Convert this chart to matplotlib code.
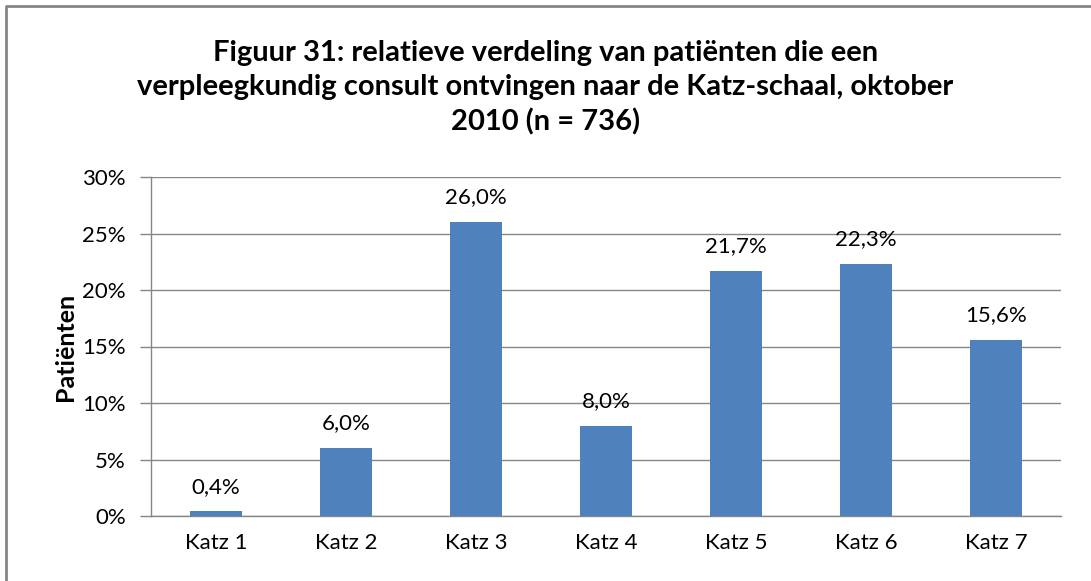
import numpy as np
import matplotlib.pyplot as plt
from matplotlib.lines import Line2D
from matplotlib.ticker import FuncFormatter

categories = ['Katz 1', 'Katz 2', 'Katz 3', 'Katz 4', 'Katz 5', 'Katz 6', 'Katz 7']
values = [0.4, 6.0, 26.0, 8.0, 21.7, 22.3, 15.6]
yticks = [0, 5, 10, 15, 20, 25, 30]

title = ('Figuur 31: relatieve verdeling van patiënten die een\n'
         'verpleegkundig consult ontvingen naar de Katz-schaal, oktober\n'
         '2010 (n = 736)')

plt.rcParams['font.family'] = ['Lato', 'DejaVu Sans']

W, H = 1091, 581
fig = plt.figure(figsize=(W / 100, H / 100), dpi=100)
# chart frame: only top and left edges are visible (rest is cropped)
fig.lines.append(Line2D([6 / W, 6 / W, 1], [0, 1 - 6 / H, 1 - 6 / H], transform=fig.transFigure,
                        color='#868686', linewidth=2))

ax = fig.add_axes([151 / W, 1 - 516 / H, 910 / W, 339 / H])
x = np.arange(len(categories))
ax.bar(x, values, width=0.4, color='#4F81BD', zorder=3)

for xi, v in zip(x, values):
    ax.text(xi, v + 1.3, ('%.1f%%' % v).replace('.', ','), ha='center', va='bottom',
            fontsize=16, color='#000000')

ax.set_xlim(-0.5, len(categories) - 0.5)
ax.set_ylim(0, 30)
ax.set_yticks(yticks)
ax.yaxis.set_major_formatter(FuncFormatter(lambda v, p: '%d%%' % v))
ax.set_xticks(x)
ax.set_xticklabels(categories)
ax.tick_params(axis='y', length=8, width=1, color='#868686', labelsize=16, pad=10)
ax.tick_params(axis='x', length=0, labelsize=16, pad=12)
ax.grid(axis='y', color='#868686', linewidth=1, zorder=0)

for s in ['top', 'right']:
    ax.spines[s].set_visible(False)
for s in ['left', 'bottom']:
    ax.spines[s].set_color('#868686')
    ax.spines[s].set_linewidth(1)

ax.set_ylabel('Patiënten', fontsize=18, fontweight='bold', labelpad=4)

fig.text(0.5, 1 - 88 / H, title, ha='center', va='center', fontsize=21,
         fontweight='bold', linespacing=1.38)

fig.savefig('out.png', dpi=100)
